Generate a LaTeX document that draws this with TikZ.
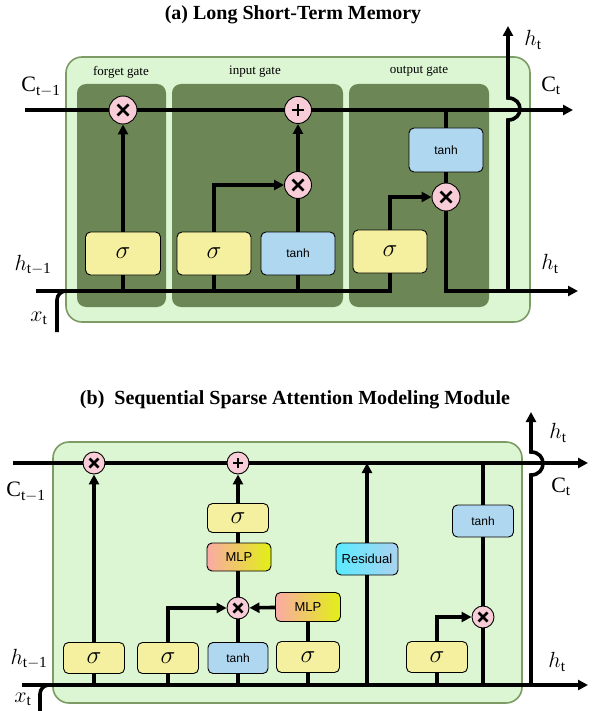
\documentclass[tikz,border=0pt]{standalone}
\usepackage{fix-cm}
\usepackage{fontspec}
\setmainfont{Liberation Serif}
\newfontfamily\boxfont{Liberation Sans}
\usetikzlibrary{arrows.meta}

\definecolor{outerfill}{RGB}{220,245,210}
\definecolor{outerline}{RGB}{125,155,100}
\definecolor{gatefill}{RGB}{108,135,85}
\definecolor{sigfill}{RGB}{245,240,160}
\definecolor{tanhfill}{RGB}{175,215,240}
\definecolor{opfill}{RGB}{248,205,215}
\definecolor{mlpleft}{RGB}{250,170,165}
\definecolor{mlpright}{RGB}{225,240,20}
\definecolor{resleft}{RGB}{90,235,255}
\definecolor{resright}{RGB}{170,210,240}

\begin{document}
\begin{tikzpicture}[x=1pt, y=-1pt,
    wire/.style={line width=3.6pt},
    arr/.style={wire, -{Triangle[length=10pt,width=10pt]}},
    outer/.style={fill=outerfill, draw=outerline, line width=1.6pt, rounded corners=16},
    gatebg/.style={fill=gatefill, rounded corners=9},
    gatelbl/.style={font=\fontsize{13}{15}\selectfont},
    title/.style={font=\fontsize{20}{23}\selectfont\bfseries},
    lbl/.style={font=\fontsize{22}{26}\selectfont},
    opbox/.style={draw, line width=0.9pt, rounded corners=5, inner sep=0pt},
    sigbox/.style={opbox, fill=sigfill, minimum width=#1, font=\fontsize{25}{28}\selectfont},
    tanhbox/.style={opbox, fill=tanhfill, minimum width=#1, font=\boxfont\fontsize{12}{14}\selectfont},
    mlpbox/.style={opbox, left color=mlpleft, right color=mlpright, minimum width=64, minimum height=28, font=\boxfont\fontsize{13}{15}\selectfont},
    resbox/.style={opbox, left color=resleft, right color=resright, minimum width=62, minimum height=32, font=\boxfont\fontsize{13}{15}\selectfont},
    mulop/.style 2 args={circle, draw, line width=0.9pt, fill=opfill, minimum size=#1, inner sep=0pt,
        path picture={\draw[line width=2.6pt]
            ([shift={(-#2,-#2)}]path picture bounding box.center) -- ([shift={(#2,#2)}]path picture bounding box.center)
            ([shift={(-#2,#2)}]path picture bounding box.center) -- ([shift={(#2,-#2)}]path picture bounding box.center);}},
    addop/.style 2 args={circle, draw, line width=0.9pt, fill=opfill, minimum size=#1, inner sep=0pt,
        path picture={\draw[line width=2.6pt]
            ([shift={(-#2,0pt)}]path picture bounding box.center) -- ([shift={(#2,0pt)}]path picture bounding box.center)
            ([shift={(0pt,-#2)}]path picture bounding box.center) -- ([shift={(0pt,#2)}]path picture bounding box.center);}}]

\useasboundingbox (0,0) rectangle (592,711);

% (a) LSTM
\node[title] (titleA) at (293,15) {(a) Long Short-Term Memory};
\draw[outer] (66,57) rectangle (530,322);
\fill[gatebg] (77,84) rectangle (166,307);
\fill[gatebg] (172,84) rectangle (343,307);
\fill[gatebg] (349,84) rectangle (489,307);
\node[gatelbl] (lblF) at (121,72) {forget gate};
\node[gatelbl] (lblI) at (255,72) {input gate};
\node[gatelbl] (lblO) at (419,71) {output gate};

\coordinate (cA0) at (25,110);
\coordinate (cA1) at (573,110);
\coordinate (hA0) at (36,291);
\coordinate (hA1) at (578,291);
\coordinate (xA) at (57,332);
\coordinate (xAj) at (72,291);
\coordinate (jA) at (508,291);
\coordinate (hopA0) at (508,120);
\coordinate (hopA1) at (508,98);
\coordinate (htA) at (508,26);

\node[mulop={28pt}{5.5pt}] (fxA) at (123,110) {};
\node[addop={27pt}{6pt}] (plusA) at (298,110) {};
\node[mulop={27pt}{5.5pt}] (ixA) at (298,185) {};
\node[mulop={28pt}{5.5pt}] (oxA) at (446,197) {};
\node[sigbox=75, minimum height=43] (sfA) at (123,253.5) {$\sigma$};
\node[sigbox=74, minimum height=43] (siA) at (214,253.5) {$\sigma$};
\node[tanhbox=74, minimum height=43] (thA) at (298,253.5) {tanh};
\node[sigbox=74, minimum height=43] (soA) at (390,251.5) {$\sigma$};
\node[tanhbox=74, minimum height=44] (thoA) at (446,150) {tanh};

\draw[wire] (cA0) -- (fxA);
\draw[wire] (fxA) -- (plusA);
\draw[arr] (plusA) -- (cA1);
\draw[arr] (sfA) -- (fxA);
\draw[arr] (siA.north) |- (ixA);
\draw[wire] (thA) -- (ixA);
\draw[arr] (ixA) -- (plusA);
\draw[wire] (thoA.north |- cA0) -- (thoA);
\draw[wire] (thoA) -- (oxA);
\draw[arr] (soA.north) |- (oxA);
\draw[wire] (hA0) -| (soA.south);
\draw[wire] (sfA) -- (sfA |- hA0);
\draw[wire] (siA) -- (siA |- hA0);
\draw[wire] (thA) -- (thA |- hA0);
\draw[wire, rounded corners=9] (xA) |- (xAj);
\draw[arr] (oxA) |- (hA1);
\draw[arr] (jA) -- (hopA0) .. controls (524,120) and (524,98) .. (hopA1) -- (htA);

\node[lbl] (cinA) at (41,87) {$\mathrm{C}_{\mathrm{t-1}}$};
\node[lbl] (coutA) at (551,86) {$\mathrm{C}_{\mathrm{t}}$};
\node[lbl] (hinA) at (33,265) {$h_{\mathrm{t-1}}$};
\node[lbl] (houtA) at (550,264) {$h_{\mathrm{t}}$};
\node[lbl] (htopA) at (533,40) {$h_{\mathrm{t}}$};
\node[lbl] (xinA) at (39,318) {$x_{\mathrm{t}}$};

% (b) sequential sparse attention
\node[title] (titleB) at (295,400) {(b)\ \ Sequential Sparse Attention Modeling Module};
\draw[outer] (53,442) rectangle (522,703);

\coordinate (cB0) at (13,463);
\coordinate (cB1) at (588,463);
\coordinate (hB0) at (22,685);
\coordinate (hB1) at (588,685);
\coordinate (xB) at (40,714);
\coordinate (xBj) at (56,685);
\coordinate (jB) at (531,685);
\coordinate (hopB0) at (531,475);
\coordinate (hopB1) at (531,452);
\coordinate (htB) at (531,412);

\node[mulop={22pt}{4.5pt}] (fxB) at (94,463) {};
\node[addop={22pt}{5pt}] (plusB) at (238,463) {};
\node[mulop={22pt}{4.5pt}] (mxB) at (238,608) {};
\node[mulop={22pt}{4.5pt}] (oxB) at (483,617) {};
\node[sigbox=61, minimum height=31] (sfB) at (94,658) {$\sigma$};
\node[sigbox=61, minimum height=31] (siB) at (168,658) {$\sigma$};
\node[tanhbox=60, minimum height=31] (thB) at (238,658) {tanh};
\node[sigbox=61, minimum height=29] (sgB) at (238,518) {$\sigma$};
\node[mlpbox] (mlpB) at (239,557) {MLP};
\node[mlpbox, minimum width=65, minimum height=29] (mlp2B) at (308,607) {MLP};
\node[sigbox=63, minimum height=31] (s4B) at (308,657) {$\sigma$};
\node[resbox] (resB) at (367,559) {Residual};
\node[sigbox=61, minimum height=31] (soB) at (437,657) {$\sigma$};
\node[tanhbox=61, minimum height=32] (thoB) at (483,521) {tanh};

\draw[wire] (cB0) -- (fxB);
\draw[wire] (fxB) -- (plusB);
\draw[arr] (plusB) -- (cB1);
\draw[arr] (sfB) -- (fxB);
\draw[arr] (siB.north) |- (mxB);
\draw[wire] (thB) -- (mxB);
\draw[wire] (s4B) -- (mlp2B);
\draw[arr] (mlp2B) -- (mxB);
\draw[wire] (mxB) -- (mxB |- mlpB.south);
\draw[wire] (sgB |- mlpB.north) -- (sgB);
\draw[arr] (sgB) -- (plusB);
\draw[wire] (resB |- hB0) -- (resB);
\draw[arr] (resB) -- (resB |- cB0);
\draw[arr] (soB.north) |- (oxB);
\draw[wire] (thoB |- cB0) -- (thoB);
\draw[wire] (thoB) -- (oxB);
\draw[wire] (oxB) -- (oxB |- hB0);
\draw[arr] (hB0) -- (hB1);
\draw[wire] (sfB) -- (sfB |- hB0);
\draw[wire] (siB) -- (siB |- hB0);
\draw[wire] (thB) -- (thB |- hB0);
\draw[wire] (s4B) -- (s4B |- hB0);
\draw[wire] (soB) -- (soB |- hB0);
\draw[wire, rounded corners=9] (xB) |- (xBj);
\draw[arr] (jB) -- (hopB0) .. controls (547,475) and (547,452) .. (hopB1) -- (htB);

\node[lbl] (cinB) at (26,492) {$\mathrm{C}_{\mathrm{t-1}}$};
\node[lbl] (coutB) at (561,487) {$\mathrm{C}_{\mathrm{t}}$};
\node[lbl] (hinB) at (29,659) {$h_{\mathrm{t-1}}$};
\node[lbl] (houtB) at (557,662) {$h_{\mathrm{t}}$};
\node[lbl] (htopB) at (558,433) {$h_{\mathrm{t}}$};
\node[lbl] (xinB) at (23,699) {$x_{\mathrm{t}}$};
\end{tikzpicture}
\end{document}
